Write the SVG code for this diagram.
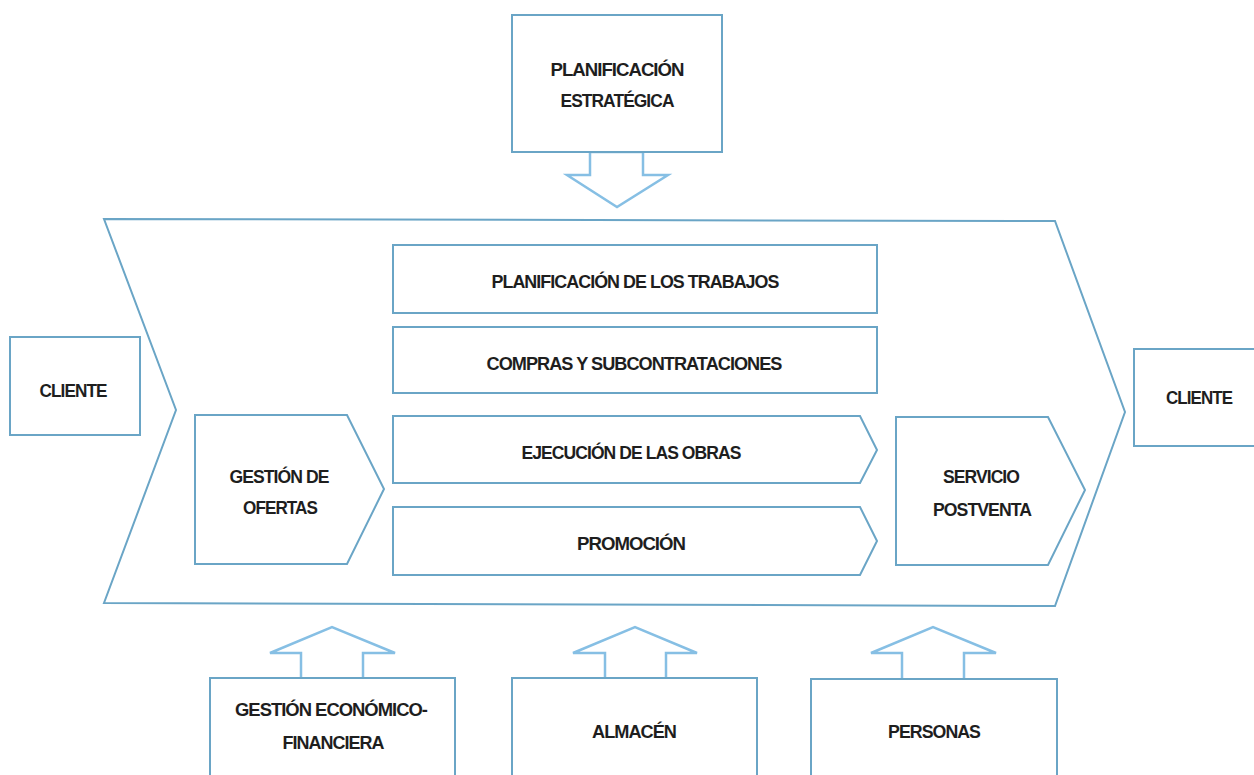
<svg xmlns="http://www.w3.org/2000/svg" width="1254" height="775" viewBox="0 0 1254 775">
<style>
.box{fill:#ffffff;stroke:#6aa5c6;stroke-width:2;stroke-linejoin:miter}
.arr{fill:#ffffff;stroke:#86bfe4;stroke-width:2.5;stroke-linejoin:miter}
.t{font-family:"Liberation Sans",Arial,sans-serif;font-weight:bold;font-size:18.5px;fill:#1e1e1e;text-anchor:middle;letter-spacing:-1px}
</style>
<rect width="1254" height="775" fill="#ffffff"/>
<g id="cadena">
<polygon class="box" points="104,219 1055,221 1125,412 1055,606 104,603 176,410"/>
</g>
<g id="planificacion-estrategica">
<polygon class="arr" points="590,152 590,175 567,175 617,207 668,175 643,175 643,152"/>
<rect class="box" x="512" y="15" width="210" height="137"/>
<text class="t" x="617" y="76" textLength="133" lengthAdjust="spacingAndGlyphs">PLANIFICACIÓN</text>
<text class="t" x="617" y="107" textLength="113" lengthAdjust="spacingAndGlyphs">ESTRATÉGICA</text>
</g>
<g id="cliente-izq">
<rect class="box" x="10" y="337" width="130" height="98"/>
<text class="t" x="73" y="397" textLength="67" lengthAdjust="spacingAndGlyphs">CLIENTE</text>
</g>
<g id="cliente-der">
<rect class="box" x="1134" y="349" width="130" height="97"/>
<text class="t" x="1199" y="404" textLength="66" lengthAdjust="spacingAndGlyphs">CLIENTE</text>
</g>
<g id="planificacion-trabajos">
<rect class="box" x="393" y="245" width="484" height="68"/>
<text class="t" x="635" y="288" textLength="287" lengthAdjust="spacingAndGlyphs">PLANIFICACIÓN DE LOS TRABAJOS</text>
</g>
<g id="compras">
<rect class="box" x="393" y="327" width="484" height="66"/>
<text class="t" x="634" y="370" textLength="295" lengthAdjust="spacingAndGlyphs">COMPRAS Y SUBCONTRATACIONES</text>
</g>
<g id="ejecucion">
<polygon class="box" points="393,416 860,416 877,450 860,483 393,483"/>
<text class="t" x="631" y="459" textLength="219" lengthAdjust="spacingAndGlyphs">EJECUCIÓN DE LAS OBRAS</text>
</g>
<g id="promocion">
<polygon class="box" points="393,507 860,507 877,541 860,575 393,575"/>
<text class="t" x="631" y="550" textLength="108" lengthAdjust="spacingAndGlyphs">PROMOCIÓN</text>
</g>
<g id="gestion-ofertas">
<polygon class="box" points="195,415 347,415 384,489 347,564 195,564"/>
<text class="t" x="279" y="483" textLength="99" lengthAdjust="spacingAndGlyphs">GESTIÓN DE</text>
<text class="t" x="280" y="514" textLength="74" lengthAdjust="spacingAndGlyphs">OFERTAS</text>
</g>
<g id="servicio-postventa">
<polygon class="box" points="896,417 1048,417 1085,490 1048,565 896,565"/>
<text class="t" x="981" y="483" textLength="76" lengthAdjust="spacingAndGlyphs">SERVICIO</text>
<text class="t" x="982" y="516" textLength="98" lengthAdjust="spacingAndGlyphs">POSTVENTA</text>
</g>
<g id="gestion-economico">
<polygon class="arr" points="301,679 301,653 270,653 332,627 395,653 363,653 363,679"/>
<rect class="box" x="210" y="678" width="245" height="110"/>
<text class="t" x="331" y="716" textLength="192" lengthAdjust="spacingAndGlyphs">GESTIÓN ECONÓMICO-</text>
<text class="t" x="333" y="749" textLength="101" lengthAdjust="spacingAndGlyphs">FINANCIERA</text>
</g>
<g id="almacen">
<polygon class="arr" points="605,679 605,653 573,653 635,627 697,653 666,653 666,679"/>
<rect class="box" x="512" y="678" width="245" height="110"/>
<text class="t" x="634" y="738" textLength="84" lengthAdjust="spacingAndGlyphs">ALMACÉN</text>
</g>
<g id="personas">
<polygon class="arr" points="902,680 902,653 871,653 933,627 996,653 964,653 964,680"/>
<rect class="box" x="811" y="679" width="246" height="110"/>
<text class="t" x="934" y="738" textLength="92" lengthAdjust="spacingAndGlyphs">PERSONAS</text>
</g>
<g id="connectors"></g>
</svg>
